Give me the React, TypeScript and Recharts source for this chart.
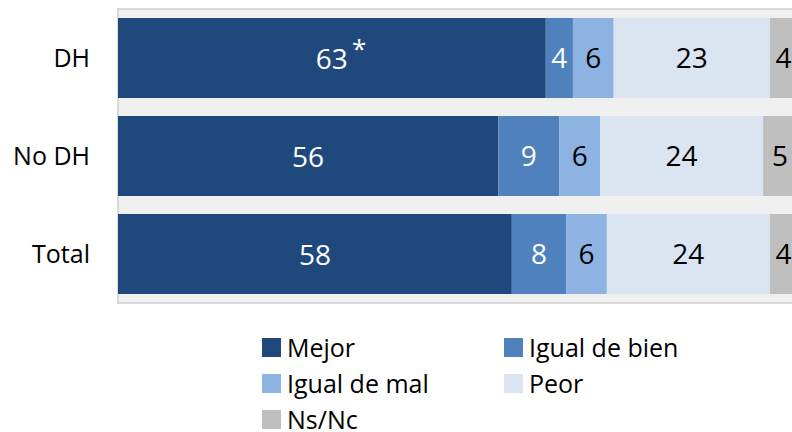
import { BarChart, Bar, XAxis, YAxis, CartesianGrid, ReferenceArea, LabelList } from 'recharts';

const categories = ['DH', 'No DH', 'Total'];
const mejor = [63, 56, 58];
const igualBien = [4, 9, 8];
const igualMal = [6, 6, 6];
const peor = [23, 24, 24];
const nsnc = [4, 5, 4];
const notes = ['*', '', ''];

const SERIES = [
  { key: 'mejor', name: 'Mejor', color: '#1f497d', text: '#ffffff' },
  { key: 'igualBien', name: 'Igual de bien', color: '#4f81bd', text: '#ffffff' },
  { key: 'igualMal', name: 'Igual de mal', color: '#8db3e2', text: '#000000' },
  { key: 'peor', name: 'Peor', color: '#dbe5f1', text: '#000000' },
  { key: 'nsnc', name: 'Ns/Nc', color: '#bfbfbf', text: '#000000' },
];

const data = categories.map((cat, i) => ({
  cat,
  mejor: mejor[i],
  igualBien: igualBien[i],
  igualMal: igualMal[i],
  peor: peor[i],
  nsnc: nsnc[i],
}));

const FONT = '"Open Sans", Lato, sans-serif';
const FS = 25;
const LABEL_FS = 28;

function MejorLabel(props: any) {
  const { x, y, width, height, value, index } = props;
  const cx = x + width / 2;
  const cy = y + height / 2;
  const note = notes[index];
  return (
    <g>
      <text x={cx} y={cy} textAnchor="middle" dominantBaseline="central" fill="#fff" fontSize={LABEL_FS} fontFamily={FONT}>
        {value}
      </text>
      {note ? (
        <text x={cx + 20} y={cy - 10} textAnchor="start" dominantBaseline="central" fill="#fff" fontSize={26} fontFamily={FONT}>
          {note}
        </text>
      ) : null}
    </g>
  );
}

export default function App() {
  return (
    <div style={{ position: 'absolute', left: 8, top: 8, width: 784, height: 424, overflow: 'hidden', fontFamily: FONT }}>
      <BarChart
        width={800}
        height={296}
        data={data}
        layout="vertical"
        margin={{ top: 1, right: 11, bottom: 1, left: 0 }}
        barCategoryGap={9}
      >
        <CartesianGrid fill="#f0f0f0" horizontal={false} vertical={false} />
        <ReferenceArea x1={0} x2={100} fill="none" stroke="#d9d9d9" strokeWidth={2} />
        <XAxis type="number" domain={[0, 100]} hide />
        <YAxis
          type="category"
          dataKey="cat"
          width={110}
          axisLine={false}
          tickLine={false}
          tickSize={0}
          tickMargin={28}
          tick={{ fill: '#000', fontSize: FS, fontFamily: FONT }}
        />
        {SERIES.map((s) => (
          <Bar key={s.key} dataKey={s.key} name={s.name} stackId="a" fill={s.color} isAnimationActive={false}>
            {s.key === 'mejor' ? (
              <LabelList dataKey={s.key} content={MejorLabel} />
            ) : (
              <LabelList dataKey={s.key} position="center" fill={s.text} fontSize={LABEL_FS} fontFamily={FONT} />
            )}
          </Bar>
        ))}
      </BarChart>
      <div
        style={{
          position: 'absolute',
          left: 254,
          top: 327,
          display: 'grid',
          gridTemplateColumns: '242px 242px',
          gridAutoRows: '24px',
          rowGap: 12,
        }}
      >
        {SERIES.map((s) => (
          <div
            key={s.key}
            style={{ display: 'flex', alignItems: 'center', fontSize: FS, lineHeight: '24px', color: '#000', whiteSpace: 'nowrap' }}
          >
            <span style={{ width: 19, height: 19, background: s.color, marginRight: 6, display: 'inline-block', flexShrink: 0 }} />
            {s.name}
          </div>
        ))}
      </div>
    </div>
  );
}
